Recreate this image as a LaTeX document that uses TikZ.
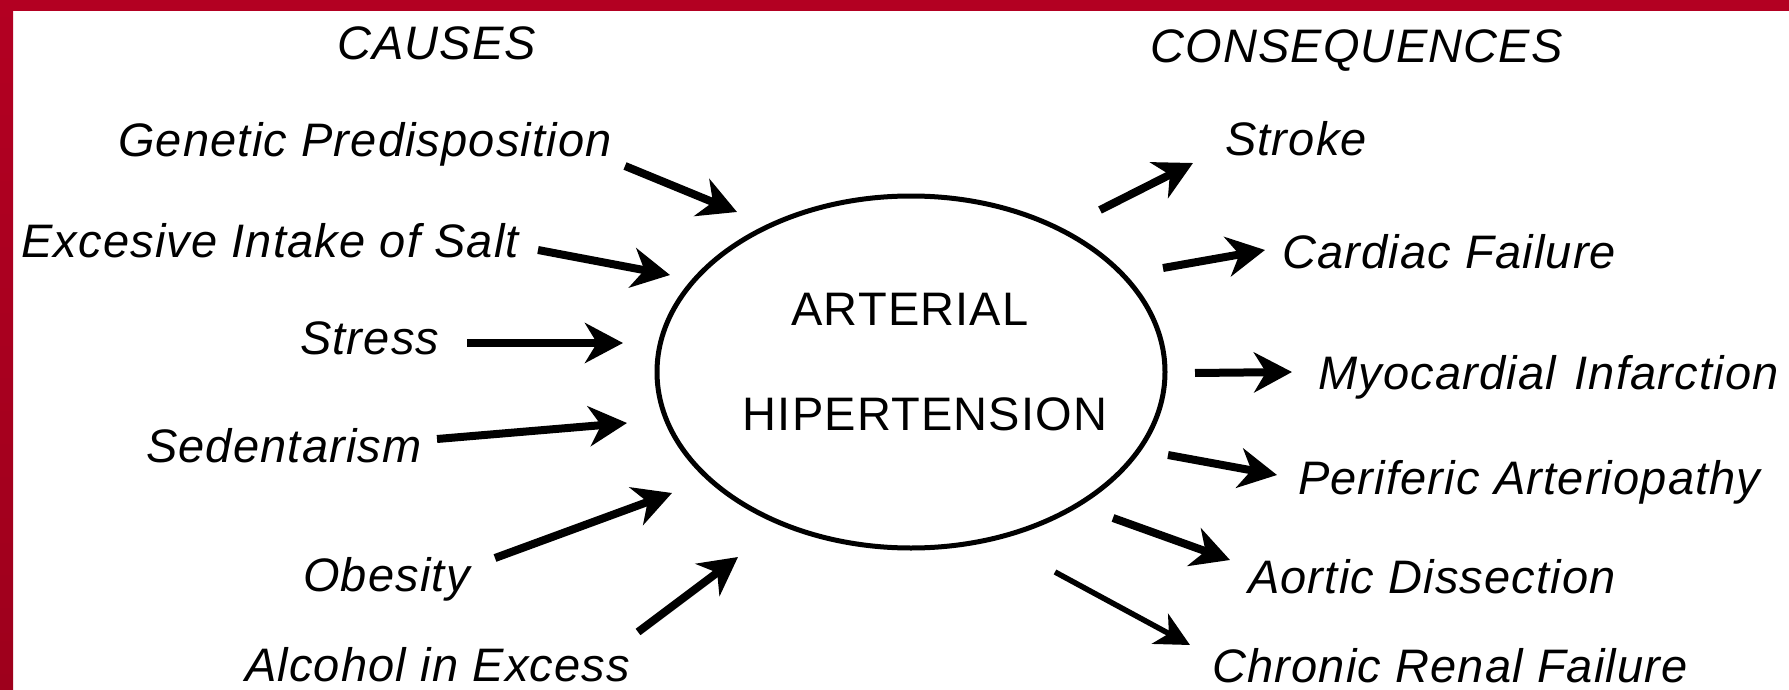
\documentclass[tikz,border=0pt]{standalone}
\usepackage{fontspec}
\setmainfont{Liberation Sans}[LetterSpace=2.5]
\usetikzlibrary{arrows.meta,shapes.geometric}
\definecolor{framered}{HTML}{B30022}
\definecolor{framebright}{HTML}{D1002C}
\definecolor{framedark}{HTML}{9E001C}
\begin{document}
\begin{tikzpicture}[x=1pt,y=-1pt,
  lab/.style={font=\fontsize{47}{50}\selectfont\itshape, inner sep=0pt, anchor=base west},
  captext/.style={font=\fontsize{47}{50}\selectfont, inner sep=0pt, anchor=base},
  arr/.style={line width=8pt, -{Stealth[length=38pt,width=40pt,inset=12pt]}},
  thinarr/.style={line width=5.5pt, -{Stealth[length=34pt,width=34pt,inset=10pt]}},
]
\useasboundingbox (0,0) rectangle (1789,690);
\fill[white] (0,0) rectangle (1789,690);
\fill[framered] (0,0) rectangle (1789,11);
\shade[top color=framered, middle color=framebright, bottom color=framedark] (0,0) rectangle (13,690);

% central ellipse
\node[draw, ellipse, line width=5pt, minimum width=508pt, minimum height=352pt, inner sep=0pt] (ht) at (911,372) {};
\node[captext] (t1) at (910,325) {ARTERIAL};
\node[captext] (t2) at (925,430) {HIPERTENSION};

% headings
\node[lab] (causes) at (337,60) {CAUSES};
\node[lab] (conseq) at (1150,63) {CONSEQUENCES};

% causes
\node[lab] (gen) at (118,157) {Genetic Predisposition};
\node[lab] (salt) at (21,257) {Excesive Intake of Salt};
\node[lab] (stress) at (300,354) {Stress};
\node[lab] (sed) at (146,462) {Sedentarism};
\node[lab] (obe) at (303,591) {Obesity};
\node[lab] (alc) at (245,681) {Alcohol in Excess};

% consequences
\node[lab] (stroke) at (1225,156) {Stroke};
\node[lab] (card) at (1282,268) {Cardiac Failure};
\node[lab] (myo) at (1318,389) {Myocardial\hspace{0.4em}Infarction};
\node[lab] (per) at (1298,494) {Periferic Arteriopathy};
\node[lab] (aor) at (1248,593) {Aortic Dissection};
\node[lab] (chr) at (1212,682) {Chronic Renal Failure};

% arrow end points
\coordinate (genS) at (625,166);   \coordinate (genT) at (737,212);
\coordinate (saltS) at (538,250);  \coordinate (saltT) at (670,275);
\coordinate (strS) at (467,343);   \coordinate (strT) at (623,343);
\coordinate (sedS) at (437,439);   \coordinate (sedT) at (627,423);
\coordinate (obeS) at (495,558);   \coordinate (obeT) at (672,493);
\coordinate (alcS) at (638,632);   \coordinate (alcT) at (738,557);

\coordinate (stkS) at (1100,210);  \coordinate (stkT) at (1193,163);
\coordinate (cardS) at (1163,268); \coordinate (cardT) at (1265,250);
\coordinate (myoS) at (1195,373);  \coordinate (myoT) at (1292,372);
\coordinate (perS) at (1168,455);  \coordinate (perT) at (1277,475);
\coordinate (aorS) at (1113,518);  \coordinate (aorT) at (1230,560);
\coordinate (chrS) at (1055,572);  \coordinate (chrT) at (1190,645);

\draw[arr] (genS) -- (genT);
\draw[arr] (saltS) -- (saltT);
\draw[arr] (strS) -- (strT);
\draw[arr] (sedS) -- (sedT);
\draw[arr] (obeS) -- (obeT);
\draw[arr] (alcS) -- (alcT);

\draw[arr] (stkS) -- (stkT);
\draw[arr] (cardS) -- (cardT);
\draw[arr] (myoS) -- (myoT);
\draw[arr] (perS) -- (perT);
\draw[arr] (aorS) -- (aorT);
\draw[thinarr] (chrS) -- (chrT);
\end{tikzpicture}
\end{document}
